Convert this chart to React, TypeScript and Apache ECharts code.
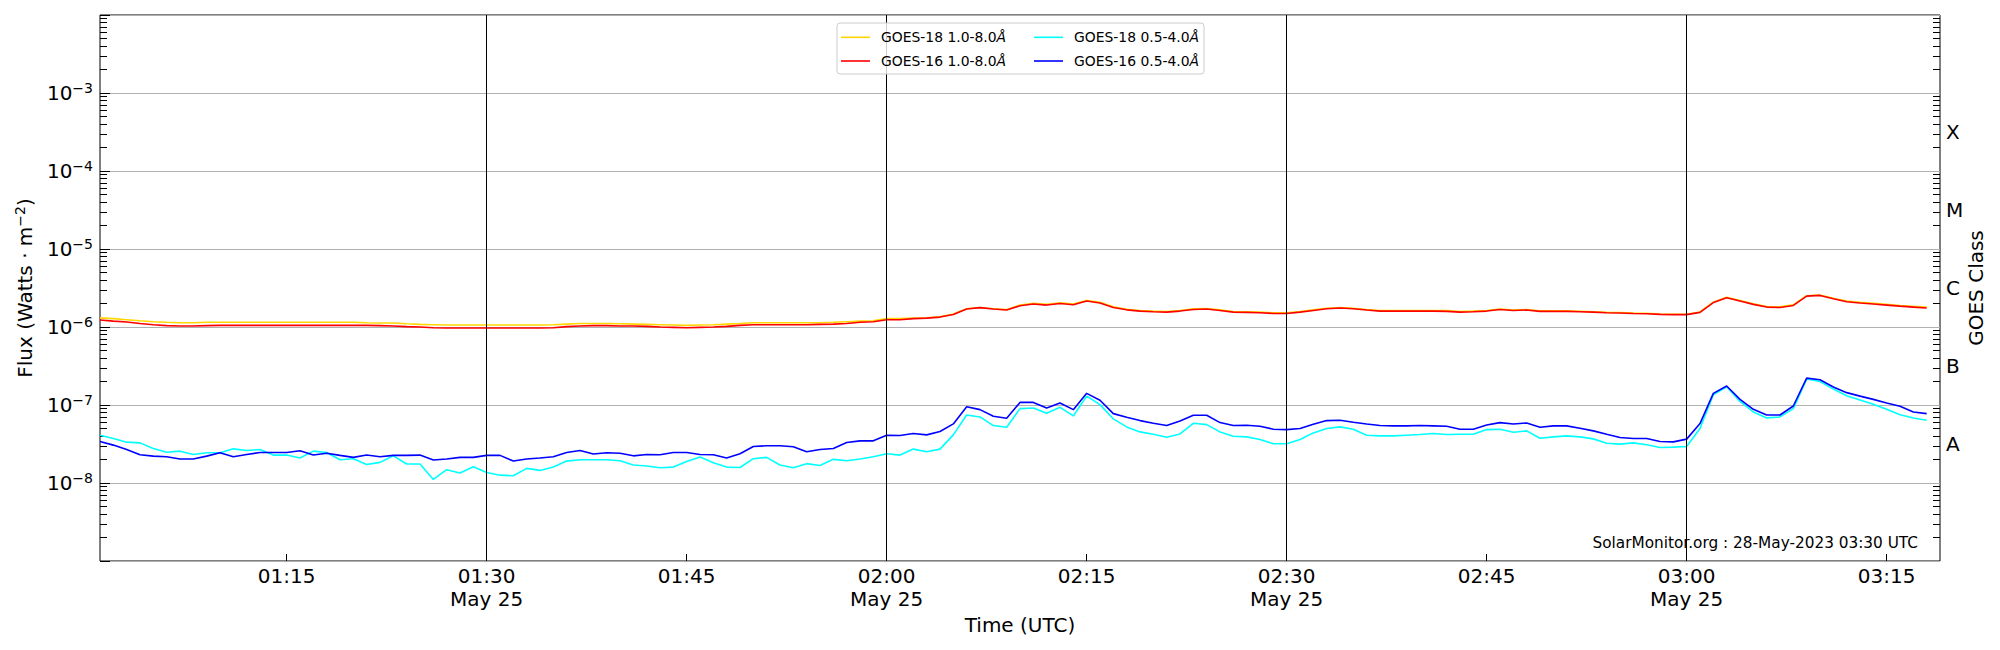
import React, { useEffect, useRef } from "react";
import * as echarts from "echarts";

// ---------- data ----------
// 1-minute cadence, first sample at 01:01 UTC (minutes since 00:00)
const START_MINUTE = 61;
const X_MIN = 61; // 01:01
const X_MAX = 199; // 03:19

// long channel values in units of 1e-6 W/m^2
const LONG_UNIT = 1e-6;
// short channel values in units of 1e-7 W/m^2
const SHORT_UNIT = 1e-7;

const goes18Long = [
  1.31, 1.28, 1.24, 1.2, 1.17, 1.15, 1.135, 1.135, 1.15, 1.15,
  1.15, 1.15, 1.15, 1.15, 1.15, 1.15, 1.15, 1.15, 1.15, 1.15,
  1.135, 1.125, 1.125, 1.1, 1.08, 1.07, 1.06, 1.06, 1.06, 1.06,
  1.06, 1.06, 1.06, 1.06, 1.07,
  1.09, 1.11, 1.11, 1.11, 1.1, 1.09, 1.08, 1.07, 1.06, 1.05,
  1.06, 1.07, 1.09, 1.11, 1.135, 1.135, 1.135, 1.135, 1.135, 1.135,
  1.15, 1.17, 1.19, 1.205, 1.28, 1.28, 1.3, 1.315, 1.355, 1.47,
  1.71, 1.78, 1.71, 1.68,
  1.91, 2.01, 1.95, 2.04, 1.97, 2.19, 2.07, 1.82, 1.69, 1.63,
  1.6, 1.58, 1.63, 1.71, 1.73, 1.66, 1.58, 1.57, 1.55, 1.52,
  1.52, 1.58, 1.66, 1.74, 1.78, 1.74, 1.68, 1.63, 1.63, 1.63,
  1.63, 1.63, 1.62, 1.58, 1.6,
  1.62, 1.7, 1.65, 1.67, 1.61, 1.61, 1.61, 1.59, 1.57, 1.54,
  1.53, 1.51, 1.5, 1.47, 1.46, 1.46, 1.56, 2.08, 2.4, 2.18,
  1.98, 1.83, 1.81, 1.92, 2.52, 2.57, 2.34, 2.15, 2.07, 2.01,
  1.95, 1.89, 1.84, 1.8,
];

const goes16Long = [
  1.23, 1.19, 1.16, 1.11, 1.07, 1.04, 1.03, 1.03, 1.04, 1.05,
  1.05, 1.05, 1.05, 1.05, 1.05, 1.05, 1.05, 1.05, 1.05, 1.05,
  1.05, 1.04, 1.03, 1.01, 1.0, 0.98, 0.97, 0.97, 0.97, 0.97,
  0.97, 0.97, 0.97, 0.97, 0.98,
  1.01, 1.03, 1.04, 1.04, 1.03, 1.03, 1.02, 1.0, 0.99, 0.98,
  0.99, 1.0, 1.02, 1.05, 1.07, 1.07, 1.07, 1.07, 1.07, 1.08,
  1.09, 1.11, 1.15, 1.17, 1.24, 1.24, 1.28, 1.3, 1.34, 1.45,
  1.7, 1.77, 1.7, 1.65,
  1.87, 1.97, 1.91, 2.0, 1.93, 2.15, 2.03, 1.78, 1.66, 1.6,
  1.57, 1.55, 1.6, 1.68, 1.7, 1.63, 1.55, 1.54, 1.52, 1.49,
  1.49, 1.55, 1.63, 1.71, 1.75, 1.71, 1.65, 1.6, 1.6, 1.6,
  1.6, 1.6, 1.585, 1.55, 1.57,
  1.6, 1.68, 1.63, 1.65, 1.585, 1.585, 1.585, 1.57, 1.55, 1.52,
  1.51, 1.49, 1.48, 1.45, 1.44, 1.44, 1.54, 2.06, 2.37, 2.15,
  1.95, 1.8, 1.78, 1.89, 2.49, 2.54, 2.3, 2.11, 2.03, 1.97,
  1.91, 1.85, 1.8, 1.75,
];

const goes18Short = [
  0.41, 0.372, 0.334, 0.327, 0.277, 0.248, 0.256, 0.232, 0.244, 0.244,
  0.274, 0.261, 0.269, 0.228, 0.228, 0.209, 0.256, 0.246, 0.199, 0.205,
  0.173, 0.184, 0.223, 0.175, 0.175, 0.111, 0.148, 0.134, 0.162, 0.136,
  0.126, 0.124, 0.154, 0.145, 0.16,
  0.191, 0.199, 0.199, 0.199, 0.193, 0.17, 0.165, 0.157, 0.16, 0.189,
  0.215, 0.182, 0.16, 0.158, 0.205, 0.213, 0.17, 0.157, 0.177, 0.168,
  0.201, 0.193, 0.203, 0.217, 0.237, 0.228, 0.272, 0.251, 0.272, 0.414,
  0.745, 0.703, 0.545, 0.519,
  0.898, 0.915, 0.783, 0.934, 0.724, 1.3, 1.01, 0.663, 0.524, 0.452,
  0.422, 0.387, 0.426, 0.583, 0.561, 0.452, 0.398, 0.39, 0.361, 0.318,
  0.318, 0.361, 0.439, 0.499, 0.524, 0.489, 0.41, 0.402, 0.402, 0.41,
  0.418, 0.431, 0.418, 0.422, 0.422,
  0.484, 0.489, 0.448, 0.466, 0.375, 0.39, 0.402, 0.39, 0.368, 0.324,
  0.315, 0.327, 0.309, 0.285, 0.288, 0.294, 0.499, 1.355, 1.71, 1.11,
  0.814, 0.683, 0.703, 0.898, 2.15, 2.0, 1.6, 1.315, 1.16, 1.02,
  0.88, 0.752, 0.683, 0.637,
];

const goes16Short = [
  0.34, 0.306, 0.269, 0.23, 0.221, 0.217, 0.203, 0.203, 0.221, 0.244,
  0.217, 0.232, 0.246, 0.246, 0.246, 0.259, 0.228, 0.241, 0.226, 0.213,
  0.228, 0.217, 0.226, 0.226, 0.228, 0.197, 0.203, 0.213, 0.213, 0.226,
  0.226, 0.191, 0.203, 0.209, 0.217,
  0.246, 0.261, 0.235, 0.244, 0.241, 0.223, 0.232, 0.23, 0.246, 0.246,
  0.232, 0.23, 0.209, 0.237, 0.294, 0.3, 0.3, 0.291, 0.251, 0.269,
  0.277, 0.331, 0.347, 0.347, 0.41, 0.406, 0.431, 0.414, 0.457, 0.572,
  0.952, 0.872, 0.717, 0.676,
  1.08, 1.08, 0.915, 1.06, 0.872, 1.41, 1.15, 0.775, 0.696, 0.631,
  0.583, 0.545, 0.625, 0.738, 0.738, 0.595, 0.545, 0.55, 0.534, 0.489,
  0.484, 0.499, 0.567, 0.631, 0.637, 0.601, 0.572, 0.545, 0.54, 0.54,
  0.545, 0.54, 0.534, 0.489, 0.489,
  0.555, 0.595, 0.572, 0.589, 0.519, 0.54, 0.54, 0.504, 0.466, 0.422,
  0.383, 0.372, 0.372, 0.34, 0.337, 0.365, 0.578, 1.41, 1.75, 1.18,
  0.88, 0.745, 0.745, 0.971, 2.21, 2.11, 1.7, 1.44, 1.3, 1.18,
  1.06, 0.962, 0.814, 0.775,
];

const seriesNames = [
  "GOES-18 1.0-8.0Å",
  "GOES-16 1.0-8.0Å",
  "GOES-18 0.5-4.0Å",
  "GOES-16 0.5-4.0Å",
];
const seriesColors = ["#ffd700", "#ff0000", "#00ffff", "#0000ff"];

const xTickMinutes = [75, 90, 105, 120, 135, 150, 165, 180, 195];
const dayLineMinutes = [90, 120, 150, 180];
const DATE_LABEL = "May 25";

const yLabelExponents = [-8, -7, -6, -5, -4, -3];
const goesClassLabels = ["A", "B", "C", "M", "X"];
const goesClassPositions = [-7.5, -6.5, -5.5, -4.5, -3.5]; // log10 flux

const WATERMARK = "SolarMonitor.org : 28-May-2023 03:30 UTC";

// ---------- helpers ----------
const FONT = "DejaVu Sans";

const minorLogTicks: number[] = [];
for (let n = -9; n < -2; n++) {
  for (let k = 2; k <= 9; k++) minorLogTicks.push(n + Math.log10(k));
}

const pad2 = (n: number) => String(n).padStart(2, "0");
const minuteLabel = (m: number) => `${pad2(Math.floor(m / 60))}:${pad2(m % 60)}`;

const toPairs = (vals: number[], unit: number) =>
  vals.map((v, i) => [START_MINUTE + i, v * unit]);

export default function App() {
  const ref = useRef<HTMLDivElement>(null);

  useEffect(() => {
    if (!ref.current) return;
    const chart = echarts.init(ref.current, null, { renderer: "svg" });

    const dataSets = [
      toPairs(goes18Long, LONG_UNIT),
      toPairs(goes16Long, LONG_UNIT),
      toPairs(goes18Short, SHORT_UNIT),
      toPairs(goes16Short, SHORT_UNIT),
    ];

    const series: any[] = dataSets.map((d, i) => ({
      type: "line",
      name: seriesNames[i],
      data: d,
      showSymbol: false,
      symbol: "none",
      lineStyle: { color: seriesColors[i], width: 1.6 },
      itemStyle: { color: seriesColors[i] },
      z: 3,
      silent: true,
    }));
    series[0].markLine = {
      silent: true,
      symbol: ["none", "none"],
      label: { show: false },
      lineStyle: { color: "#000", width: 1, type: "solid" },
      data: dayLineMinutes.map((m) => ({ xAxis: m })),
    };

    const legendText = {
      fontFamily: FONT,
      fontSize: 13.9,
      lineHeight: 16,
      color: "#000",
      padding: [0, 0, 0, 6],
      rich: {
        i: { fontFamily: FONT, fontSize: 13.9, lineHeight: 16, fontStyle: "italic", color: "#000" },
      },
    };
    const legendCommon = {
      orient: "vertical",
      top: 29.3,
      padding: 0,
      itemGap: 7.7,
      itemWidth: 29,
      itemHeight: 1.6,
      icon: "rect",
      selectedMode: false,
      z: 20,
      textStyle: legendText,
      formatter: (name: string) => name.replace("Å", "{i|Å}"),
    };

    const tickLine = { color: "#000", width: 1 };

    const option: any = {
      animation: false,
      backgroundColor: "#fff",
      textStyle: { fontFamily: FONT },
      grid: {
        left: 100,
        top: 15,
        width: 1840,
        height: 546,
        show: true,
        borderColor: "#000",
        borderWidth: 1,
        backgroundColor: "transparent",
        containLabel: false,
        outerBoundsMode: "none",
      },
      legend: [
        { ...legendCommon, left: 841, data: [seriesNames[0], seriesNames[1]] },
        { ...legendCommon, left: 1034, data: [seriesNames[2], seriesNames[3]] },
      ],
      xAxis: {
        type: "value",
        min: X_MIN,
        max: X_MAX,
        axisLine: { show: false },
        axisTick: {
          show: true,
          inside: true,
          length: 7,
          customValues: xTickMinutes,
          lineStyle: tickLine,
        },
        axisLabel: {
          customValues: xTickMinutes,
          color: "#000",
          fontFamily: FONT,
          fontSize: 20,
          lineHeight: 23,
          margin: 3,
          formatter: (v: number) => {
            const m = Math.round(v);
            return dayLineMinutes.includes(m) ? `${minuteLabel(m)}\n${DATE_LABEL}` : minuteLabel(m);
          },
        },
        splitLine: { show: false },
        name: "Time (UTC)",
        nameLocation: "middle",
        nameGap: 54,
        nameMoveOverlap: false,
        nameTextStyle: { color: "#000", fontFamily: FONT, fontSize: 20 },
      },
      yAxis: [
        {
          type: "log",
          logBase: 10,
          min: 1e-9,
          max: 1e-2,
          position: "left",
          axisLine: { show: false },
          axisTick: { show: true, inside: true, length: 10, lineStyle: tickLine },
          axisLabel: {
            color: "#000",
            margin: 7,
            formatter: (v: number) => {
              const e = Math.round(Math.log10(v));
              if (!yLabelExponents.includes(e)) return "";
              return `{b|10}{s|${e < 0 ? "−" : ""}${Math.abs(e)}}`;
            },
            rich: {
              b: { fontFamily: FONT, fontSize: 20, lineHeight: 24, color: "#000" },
              s: { fontFamily: FONT, fontSize: 14, lineHeight: 14, verticalAlign: "top", color: "#000" },
            },
          },
          splitLine: { show: true, lineStyle: { color: "#b0b0b0", width: 1 } },
          name: "Flux (Watts · m{s|−2})",
          nameLocation: "middle",
          nameRotate: 90,
          nameGap: 63,
          nameMoveOverlap: false,
          nameTextStyle: {
            color: "#000",
            fontFamily: FONT,
            fontSize: 20,
            lineHeight: 24,
            rich: {
              s: { fontFamily: FONT, fontSize: 14, lineHeight: 14, verticalAlign: "top", color: "#000" },
            },
          },
        },
        {
          type: "value",
          min: -9,
          max: -2,
          position: "left",
          axisLine: { show: false },
          axisTick: {
            show: true,
            inside: true,
            length: 7,
            customValues: minorLogTicks,
            lineStyle: tickLine,
          },
          axisLabel: { show: false },
          splitLine: { show: false },
        },
        {
          type: "value",
          min: -9,
          max: -2,
          position: "right",
          axisLine: { show: false },
          axisTick: {
            show: true,
            inside: true,
            length: 7,
            customValues: minorLogTicks,
            lineStyle: tickLine,
          },
          axisLabel: {
            customValues: goesClassPositions,
            color: "#000",
            fontFamily: FONT,
            fontSize: 20,
            margin: 6,
            formatter: (v: number) => {
              const idx = goesClassPositions.findIndex((p) => Math.abs(p - v) < 1e-6);
              return idx >= 0 ? goesClassLabels[idx] : "";
            },
          },
          splitLine: { show: false },
          name: "GOES Class",
          nameLocation: "middle",
          nameRotate: 90,
          nameGap: 26,
          nameMoveOverlap: false,
          nameTextStyle: { color: "#000", fontFamily: FONT, fontSize: 20 },
        },
      ],
      graphic: [
        {
          type: "rect",
          z: 10,
          silent: true,
          shape: { x: 837, y: 23, width: 367, height: 51, r: 3 },
          style: { fill: "rgba(255,255,255,0.8)", stroke: "#cccccc", lineWidth: 1 },
        },
        {
          type: "text",
          z: 10,
          silent: true,
          x: 1918,
          y: 543,
          style: {
            text: WATERMARK,
            fontFamily: FONT,
            fontSize: 15.3,
            fill: "#000",
            align: "right",
            verticalAlign: "middle",
          },
        },
      ],
      series,
    };

    chart.setOption(option);
    return () => chart.dispose();
  }, []);

  return (
    <div
      ref={ref}
      style={{ position: "fixed", left: 0, top: 0, width: 2000, height: 650, background: "#fff" }}
    />
  );
}
